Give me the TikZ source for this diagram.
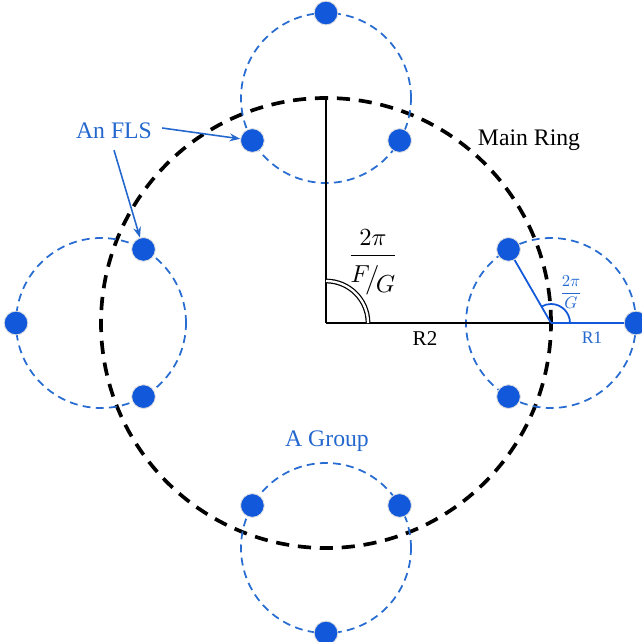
\documentclass[tikz,border=0pt]{standalone}
\usepackage{amsmath}
\usepackage{fontspec}
\setmainfont{Liberation Serif}
\usepackage{xcolor}
\usetikzlibrary{arrows.meta,positioning,calc}
\definecolor{flsblue}{RGB}{17,88,218}
\definecolor{grpblue}{RGB}{40,108,210}
\definecolor{txtblue}{RGB}{36,104,206}

\begin{document}
\begin{tikzpicture}[
    x=0.02cm, y=0.02cm,
    >={Stealth[length=6pt,width=4.5pt]},
    mainring/.style={draw=black, line width=2.1pt, dash pattern=on 7.5pt off 5pt},
    grpring/.style={draw=grpblue, line width=1pt, dash pattern=on 4.5pt off 3pt},
    fls/.style={circle, fill=flsblue, draw=black!12, line width=0.5pt,
                minimum size=13.5pt, inner sep=0pt},
    spoke/.style={line width=1.7pt, black},
    bspoke/.style={line width=1pt, flsblue},
    lbl/.style={font=\fontsize{13.5}{16}\selectfont, text=#1},
    lbl/.default=black,
    arr/.style={->, line width=0.9pt, color=txtblue},
  ]
  \useasboundingbox (0,0) rectangle (642,-642);

  % Main ring
  \coordinate (ctr) at (326,-323);
  \draw[mainring] (ctr) circle (225);

  % Groups on the ring, three FLSs each
  \foreach \a in {0,90,180,270}{
    \coordinate (g\a) at ($(ctr)+(\a:225)$);
    \draw[grpring] (g\a) circle (85);
    \foreach \k/\b in {1/0,2/120,3/240}{
      \node[fls] (g\a-\k) at ($(g\a)+(\a+\b:85)$) {};
    }
  }

  % Radius R2 and the angle between groups
  \draw[spoke] (ctr) -- (g90);
  \draw[spoke] (ctr) -- (g0);
  \draw[line width=0.7pt, double, double distance=1.3pt]
    ($(ctr)+(42,0)$) arc (0:90:42);
  \node (frac) at (373,-262)
    {\scalebox{1.4}{$\dfrac{2\pi}{\rule{0pt}{2.4ex}\raisebox{0.3ex}{$F$}\!\big/\!\raisebox{-0.6ex}{$G$}}$}};
  \node[font=\fontsize{12}{14}\selectfont] (rtwo) at (425,-339) {R2};

  % Radius R1 and the angle inside a group
  \draw[bspoke] (g0) -- (g0-1);
  \draw[bspoke] (g0) -- (g0-2);
  \draw[bspoke] ($(g0)+(19,0)$) arc (0:120:19);
  \node[text=txtblue] (gfrac) at (571,-292)
    {\scalebox{0.95}{$\dfrac{2\pi}{G}$}};
  \node[text=txtblue, font=\fontsize{10}{12}\selectfont] (rone) at (592,-338) {R1};

  % Labels
  \node[lbl] (ringlbl) at (529,-140) {Main Ring};
  \node[lbl=txtblue] (grplbl) at (327,-441) {A Group};
  \node[lbl=txtblue] (flslbl) at (114,-131) {An FLS};
  \draw[arr] ($(flslbl.east)+(4,3)$) -- (g90-2);
  \draw[arr] ($(flslbl.south)+(0,-5)$) -- (g180-3);
\end{tikzpicture}
\end{document}
